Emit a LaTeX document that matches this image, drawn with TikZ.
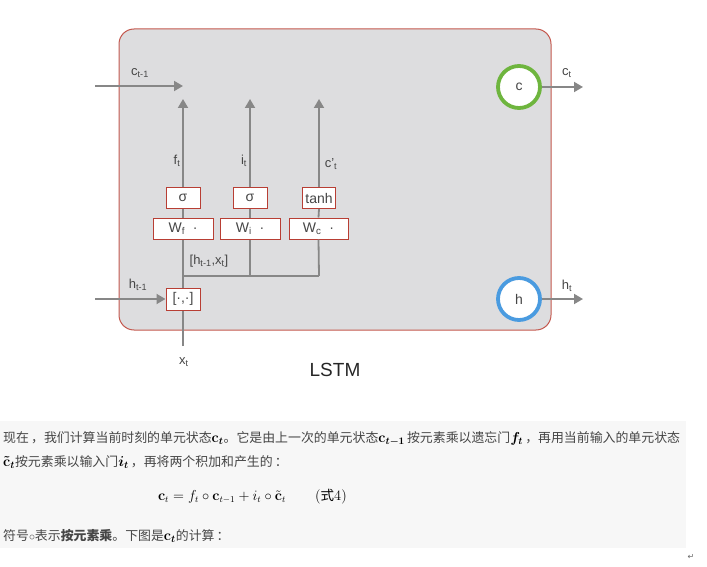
\documentclass[tikz,border=0pt]{standalone}
\usepackage[no-math]{fontspec}
\setmainfont{Liberation Sans}
\newfontfamily\cjk{Noto Sans CJK SC}
\newfontfamily\djv{DejaVu Sans}
\usetikzlibrary{arrows.meta}
\definecolor{boxfill}{RGB}{221,221,223}
\definecolor{boxred}{RGB}{196,88,78}
\definecolor{gatered}{RGB}{184,62,52}
\definecolor{lgray}{RGB}{135,135,135}
\definecolor{tgray}{RGB}{70,70,70}
\definecolor{cgreen}{RGB}{110,181,62}
\definecolor{hblue}{RGB}{74,155,224}
\definecolor{txtbg}{RGB}{247,247,247}
\definecolor{ptext}{RGB}{70,70,70}
\newcommand\sbs[1]{\textsubscript{#1}}
\newcommand\mm[1]{{\color{black}\fontsize{14.4}{15}\selectfont\boldmath$#1$}}
\newcommand\bc{\mbox{\usefont{OT1}{cmr}{bx}{n}c}}
\newcommand\tbc{\tilde{\mbox{\usefont{OT1}{cmr}{bx}{n}c}}}
\begin{document}
\begin{tikzpicture}[x=1pt,y=-1pt,
  gate/.style={draw=gatered,fill=white,line width=1pt,inner sep=0pt,minimum height=21pt,font=\fontsize{14}{14}\selectfont,text=tgray},
  conn/.style={draw=lgray,line width=1.8pt},
  arr/.style={conn,-{Triangle[length=9pt,width=10pt]},color=lgray},
  lab/.style={text=tgray,font=\fontsize{13}{13}\selectfont,inner sep=0pt},
  state/.style={circle,draw,fill=white,line width=3.8pt,minimum size=42pt,inner sep=0pt,font=\fontsize{14}{14}\selectfont,text=tgray},
  para/.style={anchor=west,inner sep=0pt,font=\cjk\fontsize{12.9}{14}\selectfont,text=ptext}
]
\useasboundingbox (0,0) rectangle (707,567);
% main box
\draw[draw=boxred,fill=boxfill,line width=1pt,rounded corners=15pt] (119,29) rectangle (551,330);
% gates
\node[gate,minimum width=34pt] (sf) at (183,198) {σ};
\node[gate,minimum width=34pt] (si) at (250,198) {σ};
\node[gate,minimum width=33pt] (th) at (319,198) {tanh};
\node[gate,minimum width=60pt] (wf) at (183,228.5) {W\sbs{f}\;\;·};
\node[gate,minimum width=60pt] (wi) at (250,228.5) {W\sbs{i}\;\;·};
\node[gate,minimum width=59pt] (wc) at (318.5,228.5) {W\sbs{c}\;\;·};
\node[gate,minimum width=34pt,minimum height=22pt] (cat) at (183,299) {[·,·]};
% states
\node[state,draw=cgreen] (cc) at (519,87) {c};
\node[state,draw=hblue] (hc) at (519,299) {h};
% coordinates
\coordinate (cin) at (95,86);
\coordinate (cend) at (183,86);
\coordinate (hin) at (95,299);
\coordinate (xin) at (183,346);
\coordinate (fend) at (183,99);
\coordinate (iend) at (250,99);
\coordinate (gend) at (319,99);
\coordinate (cout) at (583,87);
\coordinate (hout) at (583,299);
\coordinate (j1) at (183,276);
\coordinate (j2) at (250,276);
\coordinate (j3) at (319,276);
% connectors
\draw[arr] (cin) -- (cend);
\draw[arr] (hin) -- (cat.west);
\draw[conn] (xin) -- (cat.south);
\draw[conn] (cat.north) -- (wf.south);
\draw[conn] (j1) -- (j3);
\draw[conn] (j2) -- (wi.south);
\draw[conn] (j3) -- (wc.south);
\draw[conn] (wf.north) -- (sf.south);
\draw[conn] (wi.north) -- (si.south);
\draw[conn] (wc.north) -- (th.south);
\draw[arr] (sf.north) -- (fend);
\draw[arr] (si.north) -- (iend);
\draw[arr] (th.north) -- (gend);
\draw[arr] (cc.east) -- (cout);
\draw[arr] (hc.east) -- (hout);
% labels
\node[lab] (lc1) at (140,73) {c\sbs{t-1}};
\node[lab] (lh1) at (138,285) {h\sbs{t-1}};
\node[lab] (lx) at (184,362) {x\sbs{t}};
\node[lab] (lf) at (177,161) {f\sbs{t}};
\node[lab] (li) at (244,161) {i\sbs{t}};
\node[lab] (lg) at (331,164) {c'\sbs{t}};
\node[lab] (lhx) at (209,261) {[h\sbs{t-1},x\sbs{t}]};
\node[lab] (lct) at (567,73) {c\sbs{t}};
\node[lab] (lht) at (567,286) {h\sbs{t}};
\node[text=black!85,font=\fontsize{19}{19}\selectfont,inner sep=0pt] (lstm) at (335,370) {LSTM};
% text block
\fill[txtbg] (0,421) rectangle (686,548);
\node[para] (p1) at (3,439) {现在\,，我们计算当前时刻的单元状态\mm{\bc_t}。它是由上一次的单元状态\mm{\bc_{t-1}}\,按元素乘以遗忘门\mm{f_t}\,，再用当前输入的单元状态};
\node[para] (p2) at (3,462) {\mm{\tbc_t}按元素乘以输入门\mm{i_t}\,，再将两个积加和产生的\,：};
\node[inner sep=0pt,font=\fontsize{13.5}{13.5}\selectfont] (eq) at (222,497) {$\mathbf{c}_t = f_t \circ \mathbf{c}_{t-1} + i_t \circ \tilde{\mathbf{c}}_t$};
\node[inner sep=0pt,font=\fontsize{13.5}{13.5}\selectfont] (eqn) at (331,497) {$($\cjk 式\rmfamily$4)$};
\node[para] (p4) at (3,536) {符号$\circ$表示\textbf{按元素乘}。下图是\mm{\bc_t}的计算\,：};
\node[inner sep=0pt,text=black!60,font=\djv\fontsize{8}{8}\selectfont] (ret) at (691,557) {↵};
\end{tikzpicture}
\end{document}
